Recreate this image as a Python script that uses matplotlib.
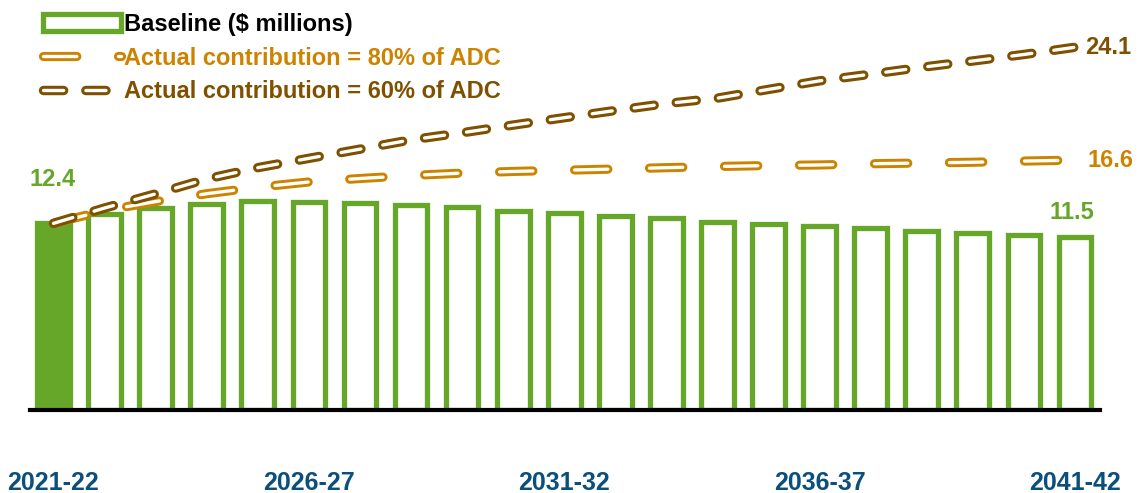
import numpy as np
import matplotlib
matplotlib.use('Agg')
import matplotlib.pyplot as plt
import matplotlib.patheffects as pe
from matplotlib.patches import Patch
from matplotlib.lines import Line2D

plt.rcParams['font.family'] = ['Liberation Sans', 'DejaVu Sans']
plt.rcParams['font.weight'] = 'bold'
plt.rcParams['lines.scale_dashes'] = False

# data ($ millions)
years = ['2021-22', '2022-23', '2023-24', '2024-25', '2025-26', '2026-27', '2027-28',
         '2028-29', '2029-30', '2030-31', '2031-32', '2032-33', '2033-34', '2034-35',
         '2035-36', '2036-37', '2037-38', '2038-39', '2039-40', '2040-41', '2041-42']
baseline = [12.4, 13.05, 13.43, 13.67, 13.87, 13.8, 13.76, 13.62, 13.47, 13.24, 13.09,
            12.87, 12.73, 12.47, 12.36, 12.2, 12.07, 11.88, 11.73, 11.6, 11.5]
adc_80 = [12.4, 13.25, 13.85, 14.37, 14.8, 15.15, 15.38, 15.58, 15.74, 15.85, 15.93,
          16.01, 16.1, 16.18, 16.24, 16.28, 16.36, 16.41, 16.46, 16.54, 16.6]
adc_60 = [12.4, 13.42, 14.36, 15.35, 16.1, 16.72, 17.33, 17.95, 18.42, 18.93, 19.42,
          19.9, 20.36, 20.72, 21.3, 21.87, 22.31, 22.77, 23.19, 23.62, 24.1]
tick_years = ['2021-22', '2026-27', '2031-32', '2036-37', '2041-42']

green = '#66a628'
orange = '#cc8400'
brown = '#7f5000'
navy = '#0b4f7c'


def main():
    fig = plt.figure(figsize=(11.45, 4.93), dpi=100)
    ax = fig.add_axes([30 / 1145, 83 / 493, 1070 / 1145, 410 / 493])

    x = np.arange(len(years))

    # first year solid, the rest outlined
    ax.bar(x[:1], baseline[:1], width=0.64, color=green, edgecolor=green, linewidth=3.8, zorder=1)
    ax.bar(x[1:], baseline[1:], width=0.64, color='white', edgecolor=green, linewidth=3.8, zorder=1)

    l80, = ax.plot(x, adc_80, color=orange, lw=6.6, dashes=(24.0, 30.0),
                   dash_capstyle='round', zorder=3)
    l80.set_path_effects([pe.Stroke(linewidth=6.6, foreground=orange),
                          pe.Stroke(linewidth=2.4, foreground='white')])
    l60, = ax.plot(x, adc_60, color=brown, lw=6.8, dashes=(14.5, 16.0),
                   dash_capstyle='round', zorder=4)
    l60.set_path_effects([pe.Stroke(linewidth=6.8, foreground=brown),
                          pe.Stroke(linewidth=2.4, foreground='white')])

    # value labels
    ax.annotate('12.4', (x[0], baseline[0]), xytext=(-1, 23), textcoords='offset points',
                ha='center', va='bottom', color=green, fontsize=17, fontweight='bold')
    ax.annotate('11.5', (x[-1], baseline[-1]), xytext=(-2, 9), textcoords='offset points',
                ha='center', va='bottom', color=green, fontsize=17, fontweight='bold')
    ax.annotate('24.1', (x[-1], adc_60[-1]), xytext=(7, 0), textcoords='offset points',
                ha='left', va='center', color=brown, fontsize=17, fontweight='bold')
    ax.annotate('16.6', (x[-1], adc_80[-1]), xytext=(9, 0), textcoords='offset points',
                ha='left', va='center', color=orange, fontsize=17, fontweight='bold')

    ax.set_xlim(-0.46, 20.49)
    ax.set_ylim(0, 27.24)
    for s in ['top', 'right', 'left']:
        ax.spines[s].set_visible(False)
    ax.spines['bottom'].set_linewidth(3)
    ax.spines['bottom'].set_color('black')
    ax.set_yticks([])

    ax.set_xticks([years.index(t) for t in tick_years])
    ax.set_xticklabels(tick_years, fontsize=18, fontweight='bold', color=navy,
                       family=['Liberation Sans Narrow', 'Liberation Sans'])
    ax.tick_params(axis='x', length=0, pad=44)

    handles = [Patch(facecolor='white', edgecolor=green, linewidth=3.8),
               Line2D([], [], color=orange, lw=6.6, dashes=(24.0, 30.0), dash_capstyle='round'),
               Line2D([], [], color=brown, lw=6.8, dashes=(14.5, 16.0), dash_capstyle='round')]
    handles[1].set_path_effects(l80.get_path_effects())
    handles[2].set_path_effects(l60.get_path_effects())
    labels = ['Baseline ($ millions)', 'Actual contribution = 80% of ADC',
              'Actual contribution = 60% of ADC']
    leg = ax.legend(handles, labels, loc='upper left', bbox_to_anchor=(0.0, 1.0),
                    frameon=False, handlelength=3.3, handletextpad=0.12,
                    labelspacing=0.45, borderaxespad=0.15, prop={'weight': 'bold', 'size': 17})
    for t, c in zip(leg.get_texts(), ['black', orange, brown]):
        t.set_color(c)

    plt.savefig('out.png', dpi=100)


if __name__ == "__main__":
    main()
